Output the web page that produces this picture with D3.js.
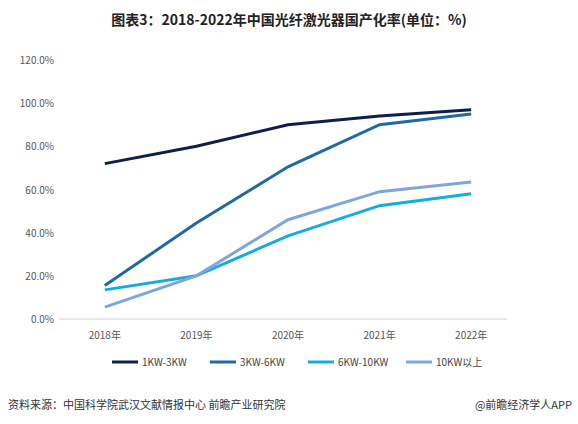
<!DOCTYPE html><html><head><meta charset="utf-8"><script src="https://cdn.jsdelivr.net/npm/d3@7"></script>
<style>body{margin:0;background:#fff}text{font-family:"Microsoft YaHei","Noto Sans CJK SC",sans-serif}</style></head><body>
<svg id="c" width="578" height="424"></svg>
<script>
const years=["2018年","2019年","2020年","2021年","2022年"];
const seriesNames=["1KW-3KW","3KW-6KW","6KW-10KW","10KW以上"];
const s1=[72,80,90,94,97];
const s2=[15.5,44.5,70.5,90,95];
const s3=[13.5,20,38.5,52.5,58];
const s4=[5.5,20,46,59,63.5];
const yTicks=[0,20,40,60,80,100,120];
const colors=["#0e1f4f","#1f6aa6","#17ace0","#7ea6dc"];
const svg=d3.select("#c");
const x=d3.scaleBand().domain(years).range([59,517]);
const y=d3.scaleLinear().domain([0,120]).range([319,60]);
svg.append("text").attr("x",289).attr("y",25).attr("text-anchor","middle").attr("font-size",14).attr("font-weight","bold").attr("fill","#222").text("图表3：2018-2022年中国光纤激光器国产化率(单位：%)");
svg.append("line").attr("x1",59).attr("x2",507).attr("y1",y(0)).attr("y2",y(0)).attr("stroke","#d0d0d0");
svg.selectAll(".yt").data(yTicks).join("text").attr("x",54).attr("y",d=>y(d)+4).attr("text-anchor","end").attr("font-size",10).attr("fill","#555").text(d=>d.toFixed(1)+"%");
svg.selectAll(".xt").data(years).join("text").attr("x",d=>x(d)+x.bandwidth()/2).attr("y",339).attr("text-anchor","middle").attr("font-size",10).attr("fill","#555").text(d=>d);
const line=d3.line().x((d,i)=>x(years[i])+x.bandwidth()/2).y(d=>y(d));
[s1,s2,s3,s4].forEach((s,k)=>svg.append("path").attr("d",line(s)).attr("fill","none").attr("stroke",colors[k]).attr("stroke-width",3));
const lx=[112,210,308,406];
seriesNames.forEach((n,k)=>{
 svg.append("line").attr("x1",lx[k]).attr("x2",lx[k]+26).attr("y1",362).attr("y2",362).attr("stroke",colors[k]).attr("stroke-width",3);
 svg.append("text").attr("x",lx[k]+30).attr("y",366).attr("font-size",10).attr("fill","#444").text(n);
});
svg.append("text").attr("x",8).attr("y",409).attr("font-size",11).attr("fill","#333").text("资料来源：中国科学院武汉文献情报中心 前瞻产业研究院");
svg.append("text").attr("x",572).attr("y",409).attr("text-anchor","end").attr("font-size",11).attr("fill","#333").text("@前瞻经济学人APP");
</script></body></html>
